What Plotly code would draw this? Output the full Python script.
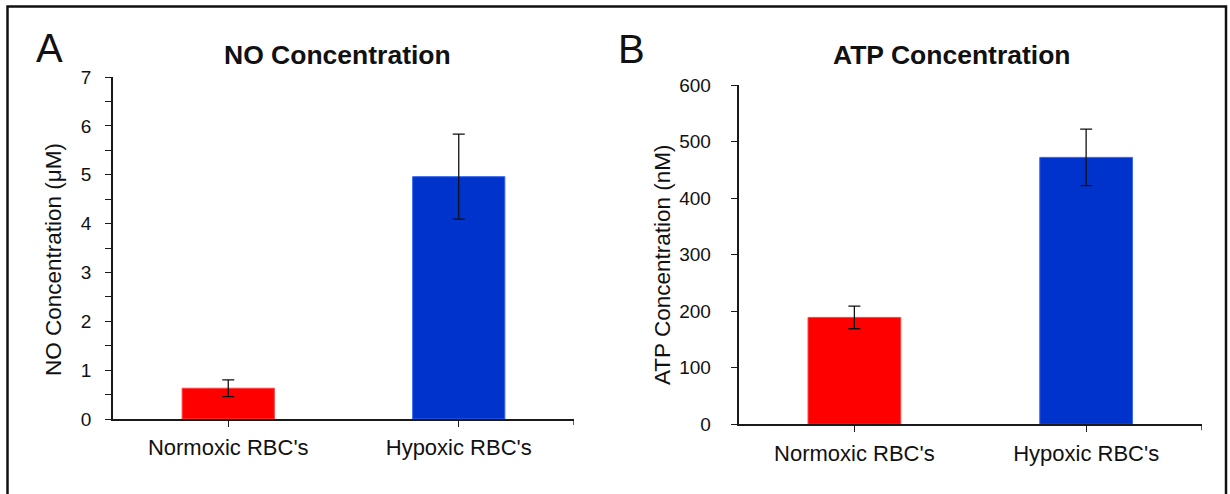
import plotly.graph_objects as go

W, H = 1230, 494

categories = ["Normoxic RBC's", "Hypoxic RBC's"]
no_values = [0.63, 4.96]
no_errors = [0.17, 0.87]
atp_values = [189, 472]
atp_errors = [20, 50]
bar_colors = ["#FF0000", "#0033CC"]
bar_edge = ["#FF4040", "#3366EE"]

FONT = "Arial, Liberation Sans, sans-serif"

def px_x(p):
    return p / W

def px_y(p):
    return 1 - p / H

fig = go.Figure()

fig.add_trace(go.Bar(
    x=categories, y=no_values, xaxis="x", yaxis="y",
    marker=dict(color=bar_colors, line=dict(color=bar_edge, width=1)),
    width=0.4,
    error_y=dict(type="data", array=no_errors, visible=True, color="#111111", thickness=1.3, width=6),
    showlegend=False,
))
fig.add_trace(go.Bar(
    x=categories, y=atp_values, xaxis="x2", yaxis="y2",
    marker=dict(color=bar_colors, line=dict(color=bar_edge, width=1)),
    width=0.4,
    error_y=dict(type="data", array=atp_errors, visible=True, color="#111111", thickness=1.3, width=6),
    showlegend=False,
))

axis_common = dict(showline=True, linecolor="#1a1a1a", linewidth=1.6, showgrid=False,
                   zeroline=False, ticks="outside", ticklen=6, tickwidth=1.4, tickcolor="#1a1a1a",
                   automargin=False)

fig.update_layout(
    width=W, height=H,
    margin=dict(l=0, r=0, t=0, b=0, pad=0, autoexpand=False),
    paper_bgcolor="white", plot_bgcolor="white",
    font=dict(family=FONT, color="#111111"),
    bargap=0.6,
    xaxis=dict(domain=[px_x(113), px_x(574)], anchor="y", range=[-0.5, 1.5],
               tickfont=dict(size=22, family=FONT, color="#111111"), ticklabelstandoff=2,
               **axis_common),
    yaxis=dict(domain=[px_y(419), px_y(77)], anchor="x", range=[0, 7], dtick=1,
               tickfont=dict(size=19, family=FONT, color="#111111"), ticklabelstandoff=10,
               minor=dict(dtick=0.5, ticks="outside", ticklen=6, tickwidth=1.4, tickcolor="#1a1a1a"),
               **axis_common),
    xaxis2=dict(domain=[px_x(738.5), px_x(1202)], anchor="y2", range=[-0.5, 1.5],
                tickfont=dict(size=22, family=FONT, color="#111111"), ticklabelstandoff=2,
                **axis_common),
    yaxis2=dict(domain=[px_y(424.3), px_y(85)], anchor="x2", range=[0, 600], dtick=100,
                tickfont=dict(size=19, family=FONT, color="#111111"), ticklabelstandoff=16,
                **axis_common),
)

annotations = [
    dict(text="A", x=px_x(49), y=px_y(48), font=dict(size=40, family=FONT, color="#111111")),
    dict(text="B", x=px_x(631), y=px_y(49), font=dict(size=40, family=FONT, color="#111111")),
    dict(text="<b>NO Concentration</b>", x=px_x(337), y=px_y(55), font=dict(size=26.5, family=FONT, color="#111111")),
    dict(text="<b>ATP Concentration</b>", x=px_x(952), y=px_y(55), font=dict(size=26.5, family=FONT, color="#111111")),
    dict(text="NO Concentration (μM)", x=px_x(53), y=px_y(260), textangle=-90, font=dict(size=22.5, family=FONT, color="#111111")),
    dict(text="ATP Concentration (nM)", x=px_x(662), y=px_y(265), textangle=-90, font=dict(size=22.5, family=FONT, color="#111111")),
]
for a in annotations:
    a.update(xref="paper", yref="paper", showarrow=False, xanchor="center", yanchor="middle")
fig.update_layout(annotations=annotations)

shapes = [
    dict(type="rect", xref="paper", yref="paper", x0=px_x(7.5), y0=-0.05, x1=px_x(1226), y1=px_y(6.5),
         line=dict(color="#111111", width=2.5), fillcolor="rgba(0,0,0,0)"),
    dict(type="line", xref="x", yref="paper", x0=1.5, x1=1.5, y0=px_y(419), y1=px_y(425),
         line=dict(color="#1a1a1a", width=1.4)),
    dict(type="line", xref="x2", yref="paper", x0=1.5, x1=1.5, y0=px_y(424.3), y1=px_y(430.3),
         line=dict(color="#1a1a1a", width=1.4)),
]
fig.update_layout(shapes=shapes)

fig.write_html("out.html", config={"displayModeBar": False},
               post_script="document.body.style.margin='0';document.body.style.overflow='hidden';")
